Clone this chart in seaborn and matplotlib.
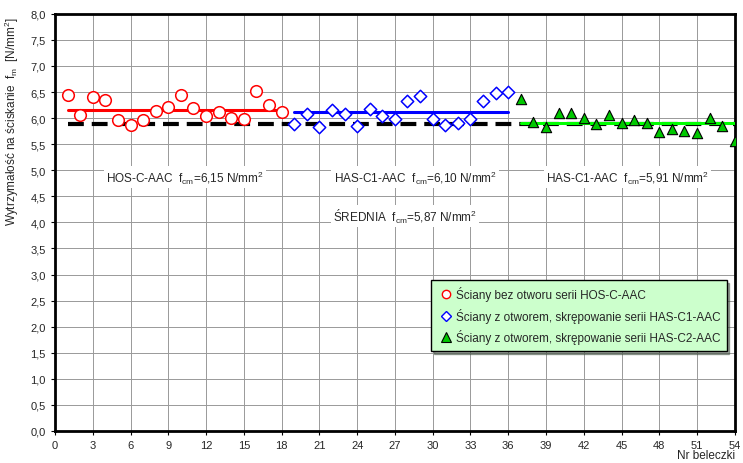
import numpy as np
import pandas as pd
import matplotlib
matplotlib.use("Agg")
import matplotlib.pyplot as plt
from matplotlib.lines import Line2D
import seaborn as sns

# Data

nr_hos = list(range(1, 19))
fc_hos = [6.44, 6.06, 6.40, 6.34, 5.96, 5.86, 5.96, 6.13, 6.22,
          6.44, 6.19, 6.05, 6.12, 6.01, 5.98, 6.52, 6.26, 6.11]

nr_has1 = list(range(19, 37))
fc_has1 = [5.89, 6.08, 5.83, 6.15, 6.08, 5.85, 6.18, 6.04, 5.98,
           6.32, 6.43, 5.99, 5.87, 5.91, 5.99, 6.33, 6.49, 6.51]

nr_has2 = list(range(37, 55))
fc_has2 = [6.36, 5.92, 5.83, 6.09, 6.10, 6.01, 5.89, 6.06, 5.90,
           5.97, 5.91, 5.73, 5.79, 5.76, 5.72, 6.00, 5.84, 5.56]

fcm_hos = 6.16
fcm_has1 = 6.11
fcm_has2 = 5.91
fcm_all = 5.88

labels_series = [
    "Ściany bez otworu serii HOS-C-AAC",
    "Ściany z otworem, skrępowanie serii HAS-C1-AAC",
    "Ściany z otworem, skrępowanie serii HAS-C2-AAC",
]

x_ticks = list(range(0, 55, 3))
y_ticks = [i * 0.5 for i in range(17)]

# Plot

sns.set_style("white")
plt.rcParams["font.family"] = ["Liberation Sans", "DejaVu Sans"]
plt.rcParams["mathtext.fontset"] = "custom"
plt.rcParams["mathtext.rm"] = "Liberation Sans"

fig = plt.figure(figsize=(7.43, 4.64), dpi=100)
ax = fig.add_axes([0.074, 0.069, 0.915, 0.899])

sns.lineplot(x=[nr_hos[0], nr_has2[-1]], y=[fcm_all, fcm_all], ax=ax,
             color="black", linewidth=3, zorder=3)
ax.lines[-1].set_linestyle((0, (3.8, 1.9)))

for nr, fcm, col in [(nr_hos, fcm_hos, "#ff0000"),
                     (nr_has1, fcm_has1, "#0000ff"),
                     (nr_has2, fcm_has2, "#00ff00")]:
    sns.lineplot(x=[nr[0], nr[-1]], y=[fcm, fcm], ax=ax, color=col,
                 linewidth=2.2, zorder=4)

sns.scatterplot(x=nr_hos, y=fc_hos, ax=ax, marker="o", s=70,
                facecolor="white", edgecolor="#ff0000", linewidth=1.1, zorder=5)
sns.scatterplot(x=nr_has1, y=fc_has1, ax=ax, marker="D", s=40,
                facecolor="white", edgecolor="#0000ff", linewidth=1.1, zorder=5)
sns.scatterplot(x=nr_has2, y=fc_has2, ax=ax, marker="^", s=55,
                facecolor="#00c800", edgecolor="black", linewidth=0.8, zorder=5)

ax.set_xlim(0, 54)
ax.set_ylim(0, 8)
ax.set_xticks(x_ticks)
ax.set_yticks(y_ticks)
ax.set_yticklabels([f"{v:.1f}".replace(".", ",") for v in y_ticks])
ax.tick_params(labelsize=8, length=3, direction="out", color="black",
               left=True, bottom=True)
ax.grid(True, color="#999999", linewidth=0.7, zorder=0)
ax.set_axisbelow(True)
for s in ax.spines.values():
    s.set_color("black")
    s.set_linewidth(2)

ax.set_xlabel("")
ax.set_ylabel("")
ax.text(-0.063, 0.995, "Wytrzymałość na ściskanie  $\\mathrm{f_{m}}$  [N/mm$^{2}$]",
        transform=ax.transAxes, rotation=90, ha="center", va="top",
        fontsize=8.5)
ax.text(1.0, -0.057, "Nr beleczki", transform=ax.transAxes, ha="right",
        va="center", fontsize=8.5)

box = dict(facecolor="white", edgecolor="none", pad=1.5)
ax.text(10.3, 4.87, "HOS-C-AAC  $\\mathrm{f_{cm}}$=6,15 N/mm$^{2}$", ha="center",
        va="center", fontsize=8.5, bbox=box, zorder=6)
ax.text(28.6, 4.87, "HAS-C1-AAC  $\\mathrm{f_{cm}}$=6,10 N/mm$^{2}$", ha="center",
        va="center", fontsize=8.5, bbox=box, zorder=6)
ax.text(45.5, 4.87, "HAS-C1-AAC  $\\mathrm{f_{cm}}$=5,91 N/mm$^{2}$", ha="center",
        va="center", fontsize=8.5, bbox=box, zorder=6)
ax.text(27.8, 4.12, "ŚREDNIA  $\\mathrm{f_{cm}}$=5,87 N/mm$^{2}$", ha="center",
        va="center", fontsize=8.5, bbox=box, zorder=6)

handles = [
    Line2D([], [], linestyle="none", marker="o", markersize=6,
           markerfacecolor="white", markeredgecolor="#ff0000"),
    Line2D([], [], linestyle="none", marker="D", markersize=5,
           markerfacecolor="white", markeredgecolor="#0000ff"),
    Line2D([], [], linestyle="none", marker="^", markersize=7,
           markerfacecolor="#00c800", markeredgecolor="black",
           markeredgewidth=0.8),
]
leg = ax.legend(handles, labels_series, loc="lower right",
                bbox_to_anchor=(0.988, 0.192), fontsize=8.5,
                frameon=True, fancybox=False, shadow=True,
                facecolor="#ccffcc", edgecolor="black", framealpha=1,
                handletextpad=0.1, handlelength=1.4, borderpad=0.55,
                labelspacing=0.55, borderaxespad=0)
leg.get_frame().set_linewidth(1)
leg.set_zorder(10)

plt.savefig("out.png", dpi=100)
plt.close()
